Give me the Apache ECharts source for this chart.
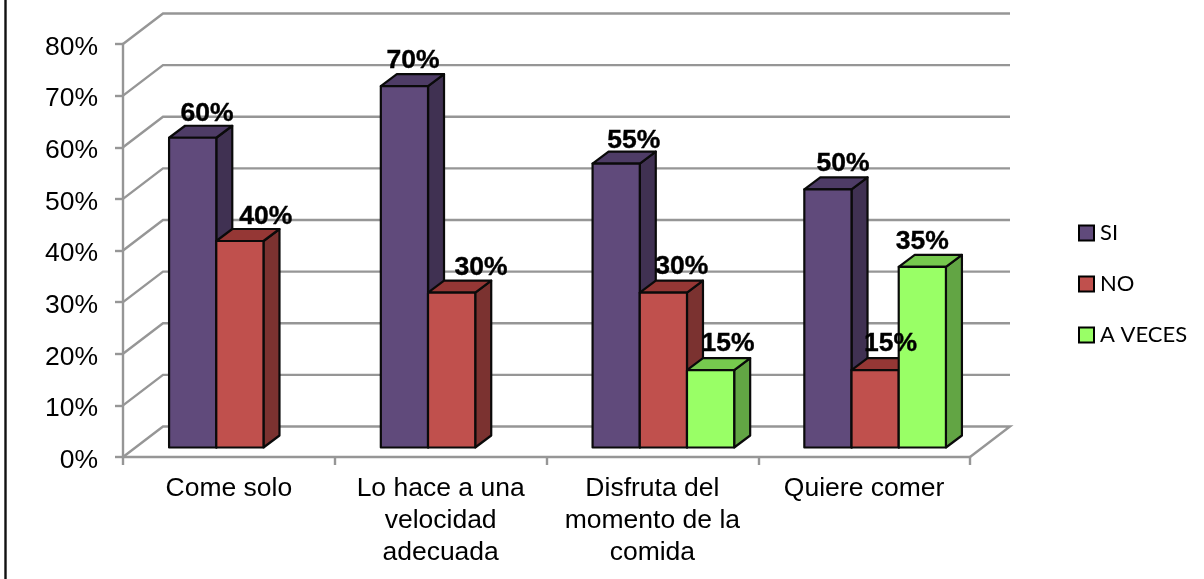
<!DOCTYPE html>
<html>
<head>
<meta charset="utf-8">
<style>html,body{margin:0;padding:0;background:#fff}#c{width:1204px;height:579px}</style>
<script src="https://cdn.jsdelivr.net/npm/echarts@6/dist/echarts.min.js"></script>
</head>
<body>
<div id="c"></div>
<script>
var categories = ['Come solo', 'Lo hace a una\nvelocidad\nadecuada', 'Disfruta del\nmomento de la\ncomida', 'Quiere comer'];
var si = [60, 70, 55, 50];
var no = [40, 30, 30, 15];
var aVeces = [null, null, 15, 35];
var gridTicks = [0, 10, 20, 30, 40, 50, 60, 70, 80];

var FONT = '"Liberation Sans", Arial, sans-serif';
var GRAY = '#969696';
var WALL = [40, -30.5];     // back wall offset from the front plane
var BASE = [11, -9.5];      // bar front-face offset from the front plane
var DEPTH = [16, -12];      // bar depth
var BAR_W = 47.2;
// hand-placed data label nudges, relative to the bar's top centre
var siLabelDx = [14.4, 8.7, 17.5, 15], siLabelDy = [-25, -26, -23.6, -26.7];
var noLabelDx = [26, 29.5, 18.5, 15.5], noLabelDy = [-25.5, -26, -26.6, -27];
var avLabelDx = [0, 0, 17.5, 0], avLabelDy = [0, 0, -27, -26.3];

function barSeries(name, values, idx, front, top, side, ldx, ldy) {
  return {
    name: name, type: 'custom', coordinateSystem: 'cartesian2d', z: 3,
    itemStyle: {color: front, borderColor: '#000', borderWidth: 2.2},
    data: values.map(function (v, i) { return [i, v]; }),
    renderItem: function (params, api) {
      if (api.value(1) == null || isNaN(api.value(1))) return;
      var v = api.value(1), i = api.value(0);
      var p0 = api.coord([i, 0]);
      var p1 = api.coord([i, v]);
      var x0 = p0[0] + BASE[0] + (idx - 1.5) * BAR_W;
      var x1 = x0 + BAR_W;
      var yb = p0[1] + BASE[1];
      var yt = p1[1] + BASE[1];
      var dx = DEPTH[0], dy = DEPTH[1];
      function poly(points, fill) {
        return {type: 'polygon', shape: {points: points},
          style: {fill: fill, stroke: '#0a0a0a', lineWidth: 2.2, lineJoin: 'round'}};
      }
      return {
        type: 'group',
        children: [
          poly([[x1, yb], [x1 + dx, yb + dy], [x1 + dx, yt + dy], [x1, yt]], side),
          poly([[x0, yt], [x0 + dx, yt + dy], [x1 + dx, yt + dy], [x1, yt]], top),
          poly([[x0, yb], [x1, yb], [x1, yt], [x0, yt]], front),
          {type: 'text', z2: 100, style: {
            text: v + '%', x: (x0 + x1) / 2 + ldx[i], y: yt + ldy[i] + 1,
            align: 'center', verticalAlign: 'middle',
            font: 'bold 26.5px ' + FONT, fill: '#000', stroke: '#000', lineWidth: 0.4
          }}
        ]
      };
    }
  };
}

var wallSeries = {
  type: 'custom', coordinateSystem: 'cartesian2d', z: 1, silent: true,
  data: gridTicks.map(function (t) { return [0, t]; }),
  renderItem: function (params, api) {
    var y = api.coord([0, api.value(1)])[1];
    var xL = params.coordSys.x, xR = xL + params.coordSys.width;
    var pts = [[xL, y], [xL + WALL[0], y + WALL[1]], [xR + WALL[0], y + WALL[1]]];
    if (api.value(1) === 0) pts.push([xR, y]);
    return {type: 'polyline', shape: {points: pts},
      style: {fill: 'none', stroke: GRAY, lineWidth: 2.4}};
  }
};

var chart = echarts.init(document.getElementById('c'), null, {renderer: 'canvas'});
chart.setOption({
  animation: false,
  backgroundColor: '#fff',
  graphic: [{type: 'line', shape: {x1: 5.5, y1: 0, x2: 5.5, y2: 579}, style: {stroke: '#111', lineWidth: 2.4}, silent: true}],
  grid: {left: 123, top: 44, width: 847, height: 413, containLabel: false},
  legend: {
    left: 1073, top: 217, orient: 'vertical', icon: 'rect', itemWidth: 15, itemHeight: 15, itemGap: 29,
    data: ['SI', 'NO', 'A VECES'], selectedMode: false,
    textStyle: {fontFamily: 'Lato', fontSize: 22, lineHeight: 20, color: '#000', padding: [0, 0, 0, 1]}
  },
  xAxis: {
    type: 'category', data: categories, boundaryGap: true,
    axisLine: {lineStyle: {color: GRAY, width: 2.4}},
    axisTick: {show: true, length: 8, lineStyle: {color: GRAY, width: 2.4}},
    axisLabel: {color: '#000', fontFamily: FONT, fontSize: 26.5, lineHeight: 32, margin: 16, interval: 0}
  },
  yAxis: {
    type: 'value', min: 0, max: 80, interval: 10,
    splitLine: {show: false},
    axisLine: {show: true, lineStyle: {color: GRAY, width: 2.4}},
    axisTick: {show: true, length: 8, lineStyle: {color: GRAY, width: 2.4}},
    axisLabel: {color: '#000', fontFamily: FONT, fontSize: 26.5, margin: 25, verticalAlign: 'top', lineHeight: 7, formatter: '{value}%'}
  },
  series: [
    wallSeries,
    barSeries('SI', si, 0, '#604A7B', '#4E3C66', '#403152', siLabelDx, siLabelDy),
    barSeries('NO', no, 1, '#C0504D', '#953735', '#7B3230', noLabelDx, noLabelDy),
    barSeries('A VECES', aVeces, 2, '#99FF66', '#76C94E', '#62A544', avLabelDx, avLabelDy)
  ]
});
</script>
</body>
</html>
